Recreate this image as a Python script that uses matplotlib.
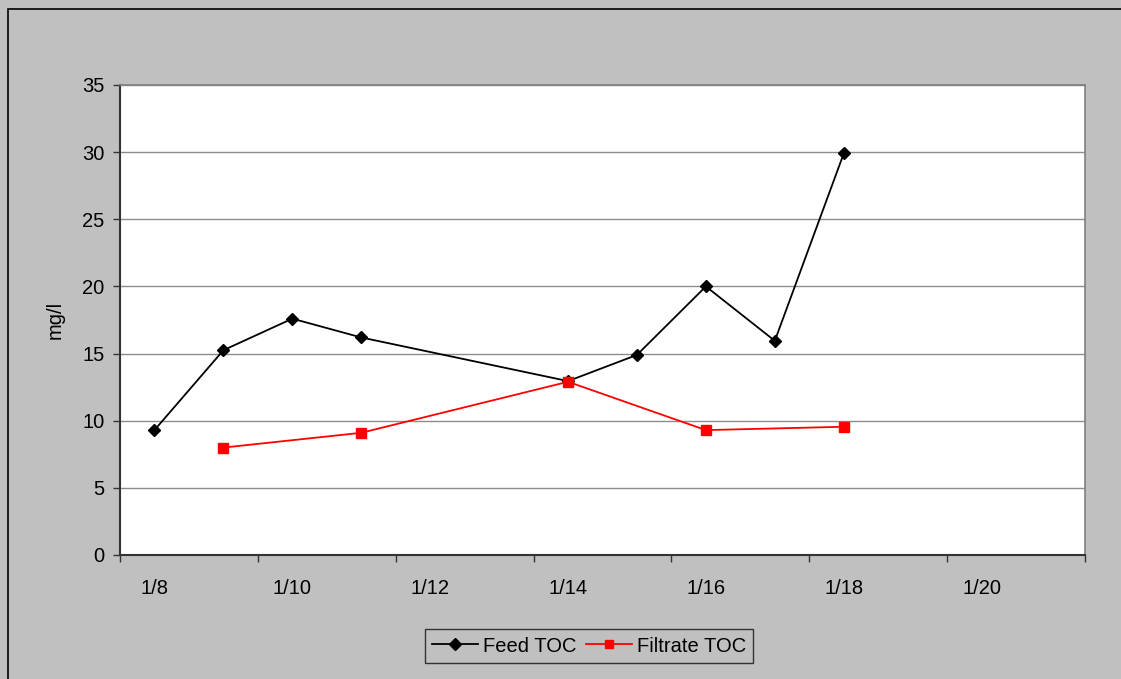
import numpy as np
import matplotlib.pyplot as plt
from matplotlib.patches import Rectangle

plt.rcParams['font.family'] = ['Liberation Sans', 'DejaVu Sans']

# sampling days in January
feed_days = [8, 9, 10, 11, 14, 15, 16, 17, 18]
feed_toc = [9.3, 15.25, 17.6, 16.2, 12.95, 14.9, 20.0, 15.95, 29.9]
filt_days = [9, 11, 14, 16, 18]
filt_toc = [8.0, 9.1, 12.9, 9.3, 9.55]
tick_days = [8, 10, 12, 14, 16, 18, 20]
tick_labels = ['1/8', '1/10', '1/12', '1/14', '1/16', '1/18', '1/20']

bg = '#c0c0c0'
fig = plt.figure(figsize=(11.21, 6.79), dpi=100, facecolor=bg)
# chart-area frame
fig.patches.append(Rectangle((8 / 1121, -0.1), 1.2, 1 - 9 / 679 + 0.1,
                             transform=fig.transFigure, fill=False,
                             edgecolor='black', lw=1.2))

ax = fig.add_axes([120 / 1121, 1 - 555 / 679, 965 / 1121, 470 / 679])
ax.set_facecolor('white')

# points sit in the middle of each day's slot
ax.plot(np.array(feed_days) + 0.5, feed_toc, '-D', color='black', lw=1.3,
        ms=6.5, label='Feed TOC', zorder=3)
ax.plot(np.array(filt_days) + 0.5, filt_toc, '-s', color='#ff0000', lw=1.3,
        ms=7, label='Filtrate TOC', zorder=3)

ax.set_xlim(8, 22)
ax.set_ylim(0, 35)
ax.set_yticks(np.arange(0, 36, 5))
ax.yaxis.grid(True, color='#8c8c8c', lw=1)
ax.set_axisbelow(True)

ax.set_xticks(tick_days + [22])
ax.set_xticklabels([])
ax.set_xticks(np.array(tick_days) + 0.5, minor=True)
ax.set_xticklabels(tick_labels, minor=True)
ax.tick_params(axis='x', which='major', length=5, width=1, color='#333333')
ax.tick_params(axis='x', which='minor', length=0, pad=17, labelsize=14.5)
ax.tick_params(axis='y', length=5, width=1, color='#333333', pad=6,
               labelsize=14.5)

for s in ['top', 'right']:
    ax.spines[s].set_color('#808080')
    ax.spines[s].set_linewidth(1.2)
for s in ['left', 'bottom']:
    ax.spines[s].set_color('#333333')
    ax.spines[s].set_linewidth(1.5)

ax.set_ylabel('mg/l', fontsize=14.5, labelpad=13)

leg = fig.legend(loc='center', bbox_to_anchor=(589 / 1121, 1 - 646 / 679),
                 ncol=2, fontsize=14.5, frameon=True, fancybox=False,
                 facecolor=bg, edgecolor='#333333', framealpha=1,
                 handlelength=2.3, handletextpad=0.25, columnspacing=0.45,
                 borderpad=0.35, borderaxespad=0, markerscale=0.9)
leg.get_frame().set_linewidth(1)

fig.savefig('out.png', dpi=100, facecolor=bg)
